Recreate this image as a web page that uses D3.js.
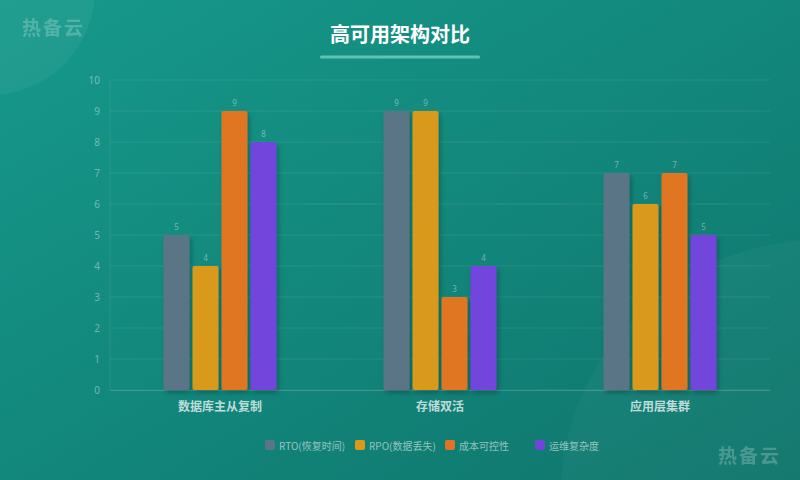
<!DOCTYPE html>
<html><head><meta charset="utf-8">
<script src="https://cdn.jsdelivr.net/npm/d3@7"></script>
<style>html,body{margin:0;padding:0;background:#11877c;}svg{display:block;}</style>
</head><body>
<svg id="c" width="800" height="480"></svg>
<script>
const categories = ["数据库主从复制", "存储双活", "应用层集群"];
const seriesNames = ["RTO(恢复时间)", "RPO(数据丢失)", "成本可控性", "运维复杂度"];
const seriesColors = ["#5a7585", "#d99a1c", "#e07424", "#7244dc"];
const rto = [5, 9, 7];
const rpo = [4, 9, 6];
const cost = [9, 3, 7];
const ops = [8, 4, 5];
const yTicks = [0,1,2,3,4,5,6,7,8,9,10];
const seriesValues = [rto, rpo, cost, ops];

(function(){
const svg = d3.select("#c");
const W = 800, H = 480;
const defs = svg.append("defs");
const bg = defs.append("linearGradient").attr("id","bg").attr("x1","0").attr("y1","0").attr("x2","1").attr("y2","1");
bg.append("stop").attr("offset","0").attr("stop-color","#16998b");
bg.append("stop").attr("offset","1").attr("stop-color","#0f756c");
const sh = defs.append("filter").attr("id","sh").attr("x","-30%").attr("y","-10%").attr("width","160%").attr("height","130%");
sh.append("feDropShadow").attr("dx",2).attr("dy",3).attr("stdDeviation",2.5).attr("flood-color","#000").attr("flood-opacity",0.25);

svg.append("rect").attr("width",W).attr("height",H).attr("fill","url(#bg)");
svg.append("circle").attr("cx",-10).attr("cy",-10).attr("r",105).attr("fill","#ffffff").attr("opacity",0.05);
svg.append("circle").attr("cx",820).attr("cy",500).attr("r",260).attr("fill","#ffffff").attr("opacity",0.03);

// watermarks
svg.append("text").attr("x",22).attr("y",35).text("热备云").attr("font-family","Noto Sans CJK SC").attr("font-weight","bold").attr("font-size",19).attr("letter-spacing",2).attr("fill","#ffffff").attr("opacity",0.22);
svg.append("text").attr("x",718).attr("y",463).text("热备云").attr("font-family","Noto Sans CJK SC").attr("font-weight","bold").attr("font-size",19).attr("letter-spacing",2).attr("fill","#ffffff").attr("opacity",0.22);

// title
svg.append("text").attr("x",400).attr("y",42).attr("text-anchor","middle").text("高可用架构对比")
  .attr("font-family","Noto Sans CJK SC").attr("font-weight","bold").attr("font-size",20).attr("fill","#ffffff");
svg.append("rect").attr("x",320).attr("y",55.5).attr("width",160).attr("height",3).attr("rx",1.5).attr("fill","#5fc4b4");

const pl = 110, pr = 770, pt = 80, pb = 390;
const x = d3.scaleBand().domain(categories).range([pl, pr]).padding(0);
const y = d3.scaleLinear().domain([0, 10]).range([pb, pt]);
const barW = 26, gap = 3;
const xs = d3.scaleBand().domain(seriesNames).range([0, 4*barW + 3*gap]).paddingInner(gap/(barW+gap)).paddingOuter(0);

// grid
const g = svg.append("g");
g.selectAll("line.grid").data(yTicks).join("line")
  .attr("x1",pl).attr("x2",pr).attr("y1",d=>y(d)).attr("y2",d=>y(d))
  .attr("stroke","#ffffff").attr("stroke-opacity",0.09).attr("stroke-width",1);
g.append("line").attr("x1",pl).attr("x2",pl).attr("y1",pt).attr("y2",pb).attr("stroke","#ffffff").attr("stroke-opacity",0.09);

const yAxis = d3.axisLeft(y).tickValues(yTicks).tickSize(0).tickPadding(10);
const ya = svg.append("g").attr("transform",`translate(${pl},0)`).call(yAxis);
ya.select(".domain").remove();
ya.selectAll("text").attr("font-family","Noto Sans").attr("font-size",10).attr("fill","#ffffff").attr("fill-opacity",0.4);

const xAxis = d3.axisBottom(x).tickSize(0).tickPadding(12);
const xa = svg.append("g").attr("transform",`translate(0,${pb})`).call(xAxis);
xa.select(".domain").attr("stroke","#ffffff").attr("stroke-opacity",0.15);
xa.selectAll("text").attr("font-family","Noto Sans CJK SC").attr("font-weight","bold").attr("font-size",12).attr("fill","#d6e8e4").attr("fill-opacity",0.9);

// bars
const groups = svg.append("g").selectAll("g").data(categories).join("g")
  .attr("transform", d => `translate(${x(d) + x.bandwidth()/2 - xs.range()[1]/2},0)`);
groups.each(function(cat, ci){
  const gg = d3.select(this);
  const data = seriesNames.map((s, si) => ({s, si, v: seriesValues[si][ci]}));
  gg.selectAll("rect").data(data).join("rect")
    .attr("x", d => xs(d.s)).attr("width", xs.bandwidth())
    .attr("y", d => y(d.v)).attr("height", d => y(0) - y(d.v))
    .attr("rx", 2).attr("fill", d => seriesColors[d.si]).attr("filter","url(#sh)");
  gg.selectAll("text").data(data).join("text")
    .attr("x", d => xs(d.s) + xs.bandwidth()/2).attr("y", d => y(d.v) - 5)
    .attr("text-anchor","middle").text(d => d.v)
    .attr("font-family","Noto Sans").attr("font-size",8).attr("fill","#ffffff").attr("fill-opacity",0.4);
});

// legend
const legX = [265, 355, 445, 535];
const lg = svg.append("g").selectAll("g").data(seriesNames).join("g")
  .attr("transform",(d,i)=>`translate(${legX[i]},440)`);
lg.append("rect").attr("width",10).attr("height",10).attr("rx",2).attr("fill",(d,i)=>seriesColors[i]);
lg.append("text").attr("x",14).attr("y",9.5).text(d=>d)
  .attr("font-family","Noto Sans CJK SC").attr("font-size",10).attr("fill","#ffffff").attr("fill-opacity",0.55);
})();
</script>
</body></html>
